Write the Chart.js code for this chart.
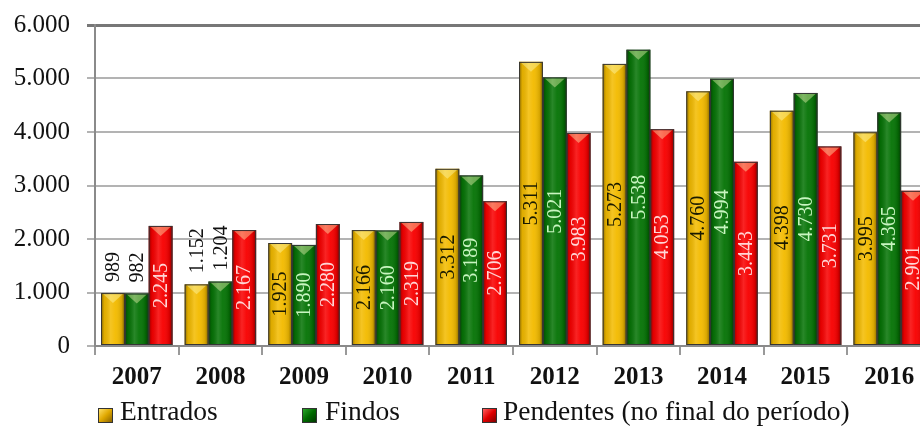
<!DOCTYPE html>
<html>
<head>
<meta charset="utf-8">
<script src="https://cdn.jsdelivr.net/npm/chart.js@4.4.1/dist/chart.umd.min.js"></script>
<style>
  html, body { margin: 0; padding: 0; background: #fff; overflow: hidden; width: 920px; height: 427px; }
  #wrap { position: absolute; left: 0; top: 0; width: 940px; height: 427px; }
  #legend { position: absolute; left: 0; top: 396px; width: 920px; height: 30px; font-family: "Liberation Serif", serif; font-size: 27.5px; color: #111; }
  .item { position: absolute; top: 0; white-space: nowrap; line-height: 30px; }
  .mk { position: absolute; top: 12px; width: 15px; height: 15px; box-sizing: border-box; border: 1px solid #333; }
  .tx { position: absolute; top: 0; }
</style>
</head>
<body>
<div id="wrap"><canvas id="c" width="940" height="427"></canvas></div>
<div id="legend"></div>
<script>
const categories = ["2007","2008","2009","2010","2011","2012","2013","2014","2015","2016"];
const entrados   = [989, 1152, 1925, 2166, 3312, 5311, 5273, 4760, 4398, 3995];
const findos     = [982, 1204, 1890, 2160, 3189, 5021, 5538, 4994, 4730, 4365];
const pendentes  = [2245, 2167, 2280, 2319, 2706, 3983, 4053, 3443, 3731, 2901];
const seriesNames = ["Entrados", "Findos", "Pendentes (no final do período)"];
const yTicks = [0, 1000, 2000, 3000, 4000, 5000, 6000];

const baseColors  = ["#f3bb00", "#067406", "#f80000"];
const labelColors = ["#1a1a00", "#c8f5c0", "#ffd6d6"];

function fmt(v) { return String(v).replace(/\B(?=(\d{3})+(?!\d))/g, "."); }

const bevelPlugin = {
  id: "bevel",
  afterDatasetsDraw(chart) {
    const ctx = chart.ctx;
    chart.data.datasets.forEach((ds, di) => {
      const meta = chart.getDatasetMeta(di);
      meta.data.forEach((bar, i) => {
        const w = bar.width, l = bar.x - w / 2, r = bar.x + w / 2, t = bar.y, b = bar.base;
        ctx.save();
        const g = ctx.createLinearGradient(l, 0, r, 0);
        g.addColorStop(0, "rgba(0,0,0,0.40)");
        g.addColorStop(0.14, "rgba(0,0,0,0.08)");
        g.addColorStop(0.4, "rgba(255,255,255,0.14)");
        g.addColorStop(0.6, "rgba(255,255,255,0.04)");
        g.addColorStop(0.86, "rgba(0,0,0,0.12)");
        g.addColorStop(1, "rgba(0,0,0,0.45)");
        ctx.fillStyle = g;
        ctx.fillRect(l, t, w, b - t);
        ctx.beginPath();
        ctx.moveTo(l + 2, t + 1);
        ctx.lineTo(r - 2, t + 1);
        ctx.lineTo(bar.x, t + 10);
        ctx.closePath();
        ctx.fillStyle = "rgba(255,255,190,0.40)";
        ctx.fill();
        ctx.strokeStyle = "#353535";
        ctx.lineWidth = 1;
        ctx.strokeRect(l + 0.5, t + 0.5, w - 1, b - t - 1);
        ctx.restore();
      });
    });
    // value labels
    ctx.save();
    ctx.font = "20px 'Liberation Serif', serif";
    chart.data.datasets.forEach((ds, di) => {
      const meta = chart.getDatasetMeta(di);
      meta.data.forEach((bar, i) => {
        const v = ds.data[i];
        const txt = fmt(v);
        ctx.save();
        ctx.textBaseline = "middle";
        if (v < 1500) {
          ctx.translate(bar.x, bar.y - 11);
          ctx.rotate(-Math.PI / 2);
          ctx.textAlign = "left";
          ctx.fillStyle = "#111";
        } else {
          ctx.translate(bar.x, (bar.y + bar.base) / 2);
          ctx.rotate(-Math.PI / 2);
          ctx.textAlign = "center";
          ctx.fillStyle = labelColors[di];
        }
        ctx.fillText(txt, 0, 1);
        ctx.restore();
      });
    });
    ctx.restore();
  }
};

const chart = new Chart(document.getElementById("c"), {
  type: "bar",
  data: {
    labels: categories,
    datasets: [
      { label: seriesNames[0], data: entrados,  backgroundColor: baseColors[0], borderWidth: 0 },
      { label: seriesNames[1], data: findos,    backgroundColor: baseColors[1], borderWidth: 0 },
      { label: seriesNames[2], data: pendentes, backgroundColor: baseColors[2], borderWidth: 0 }
    ]
  },
  options: {
    responsive: false,
    animation: false,
    events: [],
    categoryPercentage: 0.855,
    barPercentage: 1.0,
    layout: { padding: { left: 0, right: 9, top: 25, bottom: 41 } },
    plugins: { legend: { display: false }, tooltip: { enabled: false } },
    scales: {
      x: {
        afterFit(s) { s.height = 40; },
        grid: { display: true, drawOnChartArea: false, offset: true, tickLength: 9, color: "#999", lineWidth: 2 },
        border: { display: true, color: "#8a8a8a", width: 2 },
        ticks: { color: "#111", font: { family: "'Liberation Serif', serif", size: 25, weight: "bold" }, padding: 8 }
      },
      y: {
        min: 0, max: 6000,
        afterFit(s) { s.width = 95; s.paddingTop = 0; s.paddingBottom = 0; },
        afterBuildTicks(s) { s.ticks = yTicks.map(v => ({ value: v })); },
        grid: {
          tickLength: 8,
          color: (c) => (c.tick && c.tick.value === 6000) ? "#777" : "#b3b3b3",
          lineWidth: (c) => (c.tick && c.tick.value === 6000) ? 3 : 2
        },
        border: { display: true, color: "#8a8a8a", width: 2 },
        ticks: { color: "#111", padding: 17, font: { family: "'Liberation Serif', serif", size: 25, lineHeight: 0.6 }, callback: (v) => fmt(v) }
      }
    }
  },
  plugins: [bevelPlugin]
});

// HTML legend
const legendPos = [{ m: 98, t: 120 }, { m: 302, t: 325 }, { m: 482, t: 503 }];
const legendGrad = [
  "linear-gradient(135deg, #ffe066 0%, #e0a800 50%, #8a6400 100%)",
  "linear-gradient(135deg, #2aa52a 0%, #006a00 50%, #003800 100%)",
  "linear-gradient(135deg, #ff6060 0%, #e00000 50%, #800000 100%)"
];
const lg = document.getElementById("legend");
seriesNames.forEach((n, i) => {
  const mk = document.createElement("div");
  mk.className = "mk";
  mk.style.left = legendPos[i].m + "px";
  mk.style.background = legendGrad[i];
  lg.appendChild(mk);
  const tx = document.createElement("div");
  tx.className = "tx item";
  tx.style.left = legendPos[i].t + "px";
  tx.textContent = n;
  lg.appendChild(tx);
});
</script>
</body>
</html>
